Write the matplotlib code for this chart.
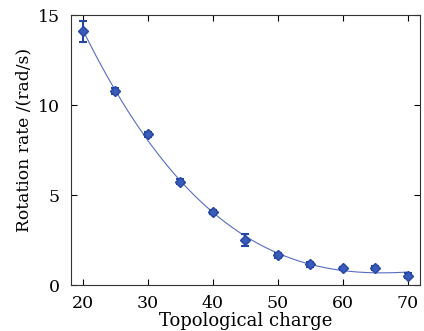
import numpy as np
import matplotlib
matplotlib.use("Agg")
import matplotlib.pyplot as plt

charge = [20, 25, 30, 35, 40, 45, 50, 55, 60, 65, 70]
rate = [14.1, 10.78, 8.37, 5.74, 4.07, 2.5, 1.65, 1.15, 0.92, 0.94, 0.52]
err = [0.58, 0.15, 0.15, 0.15, 0.1, 0.35, 0.15, 0.15, 0.1, 0.1, 0.15]
xticks = [20, 30, 40, 50, 60, 70]
yticks = [0, 5, 10, 15]

plt.rcParams['font.family'] = ['DejaVu Serif']
fig = plt.figure(figsize=(4.24, 3.31), dpi=100)
ax = fig.add_axes([71/424, 1 - 285/331, (420-71)/424, (285-15)/331])

coef = np.polyfit(charge, rate, 3)
xs = np.linspace(20, 70, 200)
ax.plot(xs, np.polyval(coef, xs), color='#5a6cc0', lw=0.8)
ax.errorbar(charge, rate, yerr=err, fmt='D', ms=5, color='#2447a6',
            mfc='#3a5cb8', mec='#2447a6', ecolor='#2447a6', elinewidth=1.5,
            capsize=3, capthick=1.5)

ax.set_xlim(18.2, 71.9)
ax.set_ylim(0, 15)
ax.set_xticks(xticks)
ax.set_yticks(yticks)
ax.tick_params(direction='in', top=True, right=True, labelsize=12.5, length=4, width=0.8)
ax.tick_params(axis='y', pad=8)
ax.tick_params(axis='x', pad=7)
for s in ax.spines.values():
    s.set_linewidth(0.8)
    s.set_color('#333333')
ax.set_xlabel('Topological charge', fontsize=13)
ax.set_ylabel('Rotation rate /(rad/s)', fontsize=12.3)
ax.xaxis.set_label_coords(0.5, -0.1)
ax.yaxis.set_label_coords(-0.112, 0.537)
fig.savefig('out.png', dpi=100)
